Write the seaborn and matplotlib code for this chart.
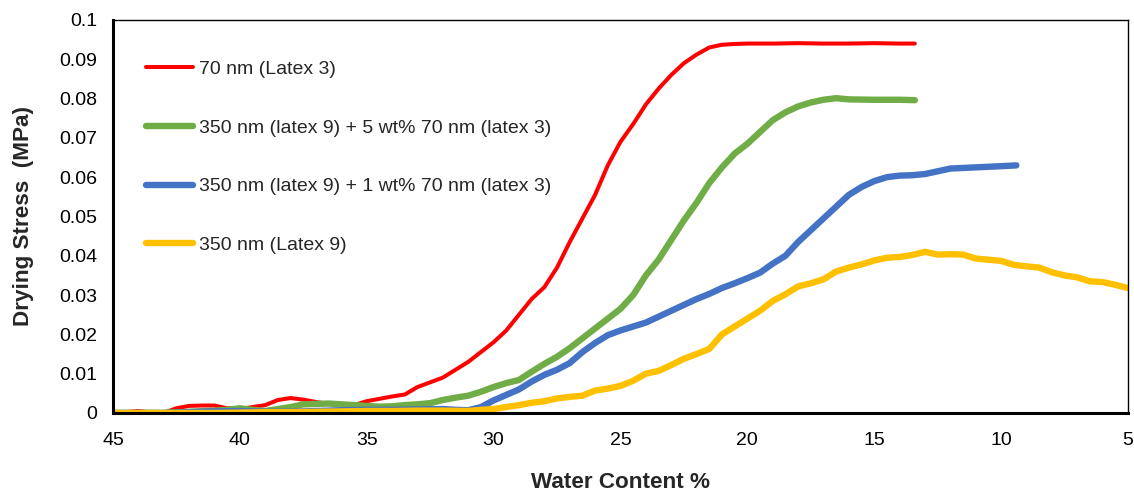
import matplotlib
matplotlib.use("Agg")
import matplotlib.pyplot as plt
import seaborn as sns

# Drying stress vs water content
red_x = [45, 44.5, 44, 43.5, 43, 42.5, 42, 41.5, 41, 40.5, 40, 39.5, 39, 38.5, 38, 37.5, 37, 36.5, 36,
         35.5, 35, 34.5, 34, 33.5, 33, 32.5, 32, 31.5, 31, 30.5, 30, 29.5, 29, 28.5, 28, 27.5, 27,
         26.5, 26, 25.5, 25, 24.5, 24, 23.5, 23, 22.5, 22, 21.5, 21, 20.5, 20, 19, 18, 17, 16, 15, 14, 13.4]
red_y = [0, 0.0002, 0.0005, 0.0001, 0, 0.0012, 0.0018, 0.0019, 0.0019, 0.0012, 0.001, 0.0015, 0.002,
         0.0033, 0.0038, 0.0034, 0.0028, 0.0023, 0.002, 0.002, 0.003, 0.0036, 0.0042, 0.0047,
         0.0066, 0.0078, 0.009, 0.011, 0.013, 0.0155, 0.018, 0.021, 0.025, 0.029, 0.032, 0.037, 0.0435,
         0.0495, 0.0555, 0.063, 0.069, 0.0735, 0.0785, 0.0825, 0.086, 0.089, 0.0912, 0.093, 0.0937,
         0.0939, 0.094, 0.094, 0.0941, 0.094, 0.094, 0.0941, 0.094, 0.094]

green_x = [45, 44, 43, 42, 41, 40.5, 40, 39.5, 39, 38.5, 38, 37.5, 37, 36.5, 36, 35.5, 35, 34.5, 34,
           33.5, 33, 32.5, 32, 31.5, 31, 30.5, 30, 29.5, 29, 28.5, 28, 27.5, 27, 26.5, 26, 25.5, 25,
           24.5, 24, 23.5, 23, 22.5, 22, 21.5, 21, 20.5, 20, 19.5, 19, 18.5, 18, 17.5, 17, 16.5, 16,
           15, 14, 13.4]
green_y = [0, 0, 0, 0.0003, 0.0006, 0.0008, 0.0012, 0.0008, 0.0005, 0.001, 0.0015, 0.0022, 0.0023,
           0.0024, 0.0022, 0.002, 0.0018, 0.0016, 0.0017, 0.002, 0.0022, 0.0025, 0.0033, 0.0039, 0.0044,
           0.0054, 0.0066, 0.0076, 0.0084, 0.0105, 0.0125, 0.0143, 0.0165, 0.019, 0.0215, 0.024, 0.0265,
           0.030, 0.035, 0.039, 0.044, 0.049, 0.0535, 0.0585, 0.0625, 0.066, 0.0685, 0.0715, 0.0745,
           0.0765, 0.078, 0.079, 0.0797, 0.0801, 0.0798, 0.0797, 0.0797, 0.0796]

blue_x = [45, 44, 43, 42, 41, 40, 39, 38, 37, 36, 35, 34, 33, 32, 31.5, 31, 30.5, 30, 29.5, 29, 28.5,
          28, 27.5, 27, 26.5, 26, 25.5, 25, 24.5, 24, 23.5, 23, 22.5, 22, 21.5, 21, 20.5, 20, 19.5, 19,
          18.5, 18, 17.5, 17, 16.5, 16, 15.5, 15, 14.5, 14, 13.5, 13, 12.5, 12, 11, 10, 9.4]
blue_y = [0, 0, 0, 0.0002, 0.0004, 0.0005, 0.0003, 0.0003, 0.0005, 0.0007, 0.0008, 0.0008, 0.0009,
          0.001, 0.0008, 0.0007, 0.0015, 0.0032, 0.0046, 0.006, 0.008, 0.0097, 0.011, 0.0127, 0.0155,
          0.0178, 0.0198, 0.021, 0.022, 0.023, 0.0245, 0.026, 0.0275, 0.029, 0.0303, 0.0318, 0.033,
          0.0343, 0.0357, 0.038, 0.040, 0.0435, 0.0465, 0.0495, 0.0525, 0.0555, 0.0575, 0.059, 0.060,
          0.0604, 0.0605, 0.0608, 0.0615, 0.0622, 0.0625, 0.0628, 0.063]

yellow_x = [45, 44, 43, 42, 41, 40, 39, 38, 37, 36, 35, 34, 33, 32, 31, 30.5, 30, 29.5, 29, 28.5, 28,
            27.5, 27, 26.5, 26, 25.5, 25, 24.5, 24, 23.5, 23, 22.5, 22, 21.5, 21, 20.5, 20, 19.5, 19,
            18.5, 18, 17.5, 17, 16.5, 16, 15.5, 15, 14.5, 14, 13.5, 13, 12.5, 12, 11.5, 11, 10.5, 10,
            9.5, 9, 8.5, 8, 7.5, 7, 6.5, 6, 5.5, 5]
yellow_y = [0, 0, 0, 0, 0, 0.0001, 0.0002, 0.0002, 0.0003, 0.0004, 0.0005, 0.0005, 0.0006, 0.0006,
            0.0005, 0.0008, 0.001, 0.0015, 0.002, 0.0026, 0.003, 0.0037, 0.0041, 0.0044, 0.0057, 0.0062,
            0.0069, 0.0082, 0.010, 0.0107, 0.0122, 0.0138, 0.015, 0.0163, 0.020, 0.022, 0.024, 0.026,
            0.0285, 0.0302, 0.0322, 0.033, 0.034, 0.036, 0.037, 0.0378, 0.0388, 0.0395, 0.0397, 0.0402,
            0.041, 0.0403, 0.0404, 0.0403, 0.0393, 0.039, 0.0387, 0.0377, 0.0373, 0.037, 0.0358, 0.035,
            0.0345, 0.0335, 0.0333, 0.0326, 0.0318]

series = [
    ("70 nm (Latex 3)", red_x, red_y, "#FF0000", 2.9),
    ("350 nm (latex 9) + 5 wt% 70 nm (latex 3)", green_x, green_y, "#70AD47", 4.6),
    ("350 nm (latex 9) + 1 wt% 70 nm (latex 3)", blue_x, blue_y, "#4472C4", 4.6),
    ("350 nm (Latex 9)", yellow_x, yellow_y, "#FFC000", 4.6),
]

x_ticks = [45, 40, 35, 30, 25, 20, 15, 10, 5]
y_ticks = [0, 0.01, 0.02, 0.03, 0.04, 0.05, 0.06, 0.07, 0.08, 0.09, 0.1]

sns.set_style("white")
plt.rcParams["font.family"] = ["Liberation Sans", "DejaVu Sans"]

fig, ax = plt.subplots(figsize=(11.34, 4.91), dpi=100)
fig.subplots_adjust(left=0.0996, right=0.9947, top=0.9593, bottom=0.1589)

for label, xs, ys, color, lw in series:
    sns.lineplot(x=xs, y=ys, ax=ax, color=color, linewidth=lw, label=label,
                 solid_capstyle="round")

ax.set_xlim(45, 5)
ax.set_ylim(0, 0.1)
ax.set_xticks(x_ticks)
ax.set_xticklabels([str(t) for t in x_ticks])
ax.set_yticks(y_ticks)
ax.set_yticklabels([f"{t:g}" for t in y_ticks])
ax.tick_params(axis="both", direction="in", labelsize=14, colors="black", width=1.5)
ax.tick_params(axis="x", length=6, pad=14)
ax.tick_params(axis="y", length=5, pad=11.5)

for side in ["left", "bottom"]:
    ax.spines[side].set_linewidth(2.2)
    ax.spines[side].set_color("black")
for side in ["top", "right"]:
    ax.spines[side].set_linewidth(1.0)
    ax.spines[side].set_color("black")

ax.set_xlabel("Water Content %", fontsize=16.2, fontweight="bold")
ax.set_ylabel("Drying Stress  (MPa)", fontsize=16.2, fontweight="bold")
ax.xaxis.set_label_coords(0.5, -0.15)
ax.yaxis.set_label_coords(-0.078, 0.5)

leg = ax.legend(loc="upper left", bbox_to_anchor=(0.0325, 0.897), frameon=False, fontsize=14,
                handlelength=2.4, handletextpad=0.35, labelspacing=2.11, borderpad=0,
                borderaxespad=0)
for line in leg.get_lines():
    line.set_solid_capstyle("round")

plt.savefig("out.png", dpi=100)
